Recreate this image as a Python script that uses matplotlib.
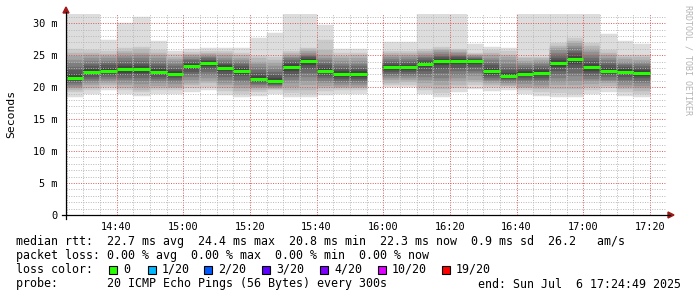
import datetime as dt
import matplotlib
matplotlib.use("Agg")
import matplotlib.pyplot as plt
import matplotlib.dates as mdates
from matplotlib.ticker import MultipleLocator, FuncFormatter
from matplotlib.patches import Polygon, Rectangle
from matplotlib.lines import Line2D

# 5-minute bins (start times), 20 sorted ping rtts per bin in ms
bin_start = ["14:25", "14:30", "14:35", "14:40", "14:45", "14:50", "14:55",
             "15:00", "15:05", "15:10", "15:15", "15:20", "15:25", "15:30",
             "15:35", "15:40", "15:45", "15:50", "15:55", "16:00", "16:05",
             "16:10", "16:15", "16:20", "16:25", "16:30", "16:35", "16:40",
             "16:45", "16:50", "16:55", "17:00", "17:05", "17:10", "17:15"]

median_ms = [21.5, 22.4, 22.6, 22.8, 22.8, 22.4, 22.1, 23.3, 23.8, 23.0,
             22.6, 21.3, 20.9, 23.2, 24.15, 22.6, 22.0, 22.0, None, 23.1,
             23.1, 23.7, 24.05, 24.15, 24.1, 22.5, 21.75, 22.1, 22.3, 23.8,
             24.4, 23.1, 22.6, 22.4, 22.3]

pings_ms = [
    [18.5, 19.3, 19.6, 19.8, 20.1, 20.4, 20.6, 20.9, 21.2, 21.45, 21.55, 22.1, 22.7, 23.2, 23.8, 24.3, 24.9, 25.4, 26.0, 32.0],
    [19.0, 19.6, 19.9, 20.3, 20.6, 21.0, 21.3, 21.6, 22.0, 22.35, 22.45, 22.9, 23.3, 23.7, 24.1, 24.5, 25.0, 25.4, 25.8, 32.0],
    [19.5, 20.1, 20.4, 20.7, 21.0, 21.3, 21.6, 21.9, 22.2, 22.55, 22.65, 23.0, 23.4, 23.8, 24.1, 24.5, 24.9, 25.2, 25.6, 27.4],
    [18.9, 19.5, 19.9, 20.3, 20.7, 21.1, 21.5, 21.9, 22.3, 22.75, 22.85, 23.3, 23.7, 24.1, 24.5, 24.9, 25.3, 25.7, 26.1, 30.0],
    [18.6, 19.2, 19.6, 20.1, 20.5, 21.0, 21.4, 21.9, 22.3, 22.75, 22.85, 23.3, 23.7, 24.1, 24.6, 25.0, 25.4, 25.9, 26.3, 31.0],
    [18.9, 19.5, 19.9, 20.2, 20.6, 20.9, 21.3, 21.6, 22.0, 22.35, 22.45, 22.9, 23.3, 23.7, 24.1, 24.5, 25.0, 25.4, 25.8, 27.2],
    [18.9, 19.5, 19.8, 20.1, 20.5, 20.8, 21.1, 21.4, 21.7, 22.05, 22.15, 22.5, 22.9, 23.3, 23.7, 24.1, 24.4, 24.8, 25.2, 25.7],
    [19.3, 19.9, 20.3, 20.7, 21.2, 21.6, 22.0, 22.4, 22.8, 23.25, 23.35, 23.6, 23.9, 24.2, 24.4, 24.7, 25.0, 25.2, 25.5, 26.0],
    [19.5, 20.1, 20.6, 21.0, 21.5, 21.9, 22.4, 22.8, 23.3, 23.75, 23.85, 24.1, 24.3, 24.5, 24.7, 24.9, 25.2, 25.4, 25.6, 26.1],
    [18.8, 19.4, 19.8, 20.3, 20.7, 21.2, 21.6, 22.1, 22.5, 22.95, 23.05, 23.4, 23.7, 24.0, 24.3, 24.6, 25.0, 25.3, 25.6, 26.1],
    [18.4, 19.0, 19.4, 19.9, 20.3, 20.8, 21.2, 21.7, 22.1, 22.55, 22.65, 23.0, 23.3, 23.6, 24.0, 24.3, 24.6, 25.0, 25.3, 26.1],
    [18.7, 19.3, 19.5, 19.8, 20.0, 20.3, 20.5, 20.8, 21.0, 21.25, 21.35, 21.8, 22.2, 22.7, 23.1, 23.6, 24.0, 24.5, 24.9, 27.75],
    [18.9, 19.5, 19.7, 19.8, 20.0, 20.2, 20.3, 20.5, 20.7, 20.85, 20.95, 21.4, 21.9, 22.4, 22.8, 23.3, 23.8, 24.2, 24.7, 28.5],
    [18.5, 19.1, 19.6, 20.1, 20.6, 21.1, 21.6, 22.1, 22.6, 23.15, 23.25, 23.6, 23.9, 24.2, 24.5, 24.8, 25.1, 25.4, 25.7, 32.0],
    [18.4, 19.0, 19.6, 20.3, 20.9, 21.6, 22.2, 22.8, 23.5, 24.1, 24.2, 24.4, 24.7, 24.9, 25.1, 25.4, 25.6, 25.9, 26.1, 32.0],
    [18.8, 19.4, 19.8, 20.2, 20.6, 21.0, 21.4, 21.8, 22.2, 22.55, 22.65, 23.0, 23.4, 23.8, 24.2, 24.6, 25.0, 25.8, 27.4, 29.8],
    [18.9, 19.5, 19.8, 20.1, 20.4, 20.7, 21.0, 21.3, 21.6, 21.95, 22.05, 22.5, 22.9, 23.3, 23.7, 24.1, 24.5, 24.9, 25.3, 26.0],
    [18.9, 19.5, 19.8, 20.1, 20.4, 20.7, 21.0, 21.3, 21.6, 21.95, 22.05, 22.5, 22.9, 23.3, 23.7, 24.1, 24.6, 25.0, 25.4, 26.0],
    None,
    [20.0, 20.4, 20.7, 21.1, 21.4, 21.7, 22.1, 22.4, 22.7, 23.05, 23.15, 23.5, 23.8, 24.1, 24.4, 24.7, 25.0, 25.3, 25.6, 27.0],
    [20.0, 20.4, 20.8, 21.1, 21.4, 21.8, 22.1, 22.4, 22.7, 23.05, 23.15, 23.5, 23.8, 24.1, 24.4, 24.7, 25.0, 25.3, 25.6, 27.0],
    [19.0, 19.6, 20.1, 20.6, 21.1, 21.6, 22.1, 22.6, 23.1, 23.65, 23.75, 24.0, 24.3, 24.6, 24.8, 25.1, 25.4, 25.6, 25.9, 32.0],
    [18.5, 19.1, 19.7, 20.3, 20.9, 21.5, 22.2, 22.8, 23.4, 24.0, 24.1, 24.4, 24.65, 24.9, 25.2, 25.5, 25.75, 26.0, 26.3, 32.0],
    [19.25, 19.8, 20.3, 20.9, 21.4, 21.95, 22.5, 23.0, 23.6, 24.1, 24.2, 24.4, 24.65, 24.9, 25.1, 25.3, 25.55, 25.8, 26.0, 32.0],
    [19.7, 20.3, 20.8, 21.2, 21.7, 22.2, 22.6, 23.1, 23.6, 24.05, 24.15, 24.3, 24.45, 24.6, 24.7, 24.85, 25.0, 25.15, 25.3, 26.8],
    [19.4, 20.0, 20.3, 20.6, 20.9, 21.2, 21.5, 21.8, 22.1, 22.45, 22.55, 23.0, 23.4, 23.8, 24.2, 24.6, 25.0, 25.4, 25.8, 26.3],
    [19.5, 20.0, 20.2, 20.4, 20.6, 20.85, 21.1, 21.3, 21.5, 21.7, 21.8, 22.3, 22.75, 23.2, 23.7, 24.2, 24.65, 25.1, 25.6, 26.2],
    [18.9, 19.5, 19.8, 20.1, 20.5, 20.8, 21.1, 21.4, 21.7, 22.05, 22.15, 22.5, 22.8, 23.1, 23.5, 23.8, 24.1, 24.5, 24.8, 32.0],
    [18.7, 19.3, 19.7, 20.0, 20.4, 20.8, 21.1, 21.5, 21.9, 22.25, 22.35, 22.65, 23.0, 23.3, 23.6, 23.9, 24.2, 24.5, 24.8, 32.0],
    [18.5, 19.1, 19.7, 20.3, 20.8, 21.4, 22.0, 22.6, 23.2, 23.75, 23.85, 24.2, 24.6, 25.0, 25.4, 25.75, 26.1, 26.5, 26.9, 32.0],
    [18.4, 19.0, 19.7, 20.3, 21.0, 21.7, 22.3, 23.0, 23.7, 24.35, 24.45, 24.9, 25.3, 25.7, 26.1, 26.5, 26.9, 27.3, 27.75, 32.0],
    [19.0, 19.6, 20.0, 20.5, 20.9, 21.3, 21.8, 22.2, 22.6, 23.05, 23.15, 23.6, 24.1, 24.6, 25.0, 25.5, 26.0, 26.4, 26.9, 32.0],
    [19.3, 19.9, 20.2, 20.6, 20.9, 21.2, 21.6, 21.9, 22.2, 22.55, 22.65, 23.0, 23.4, 23.8, 24.2, 24.6, 25.0, 25.4, 25.8, 28.3],
    [18.7, 19.3, 19.7, 20.1, 20.4, 20.8, 21.2, 21.6, 22.0, 22.35, 22.45, 22.8, 23.1, 23.4, 23.7, 24.0, 24.4, 24.7, 25.0, 27.2],
    [18.4, 19.0, 19.4, 19.8, 20.2, 20.6, 21.0, 21.4, 21.8, 22.25, 22.35, 22.7, 23.0, 23.3, 23.7, 24.0, 24.3, 24.7, 25.0, 26.8],
]

loss_labels = ["0", "1/20", "2/20", "3/20", "4/20", "10/20", "19/20"]
loss_colors = ["#26ff00", "#00b8ff", "#0059ff", "#5e00ff", "#7e00ff", "#dd00ff", "#ff0000"]

legend_rtt = "median rtt:  22.7 ms avg  24.4 ms max  20.8 ms min  22.3 ms now  0.9 ms sd  26.2   am/s"
legend_loss = "packet loss: 0.00 % avg  0.00 % max  0.00 % min  0.00 % now"
legend_probe = "probe:       20 ICMP Echo Pings (56 Bytes) every 300s"
end_text = "end: Sun Jul  6 17:24:49 2025"

day = dt.date(2025, 7, 6)
t_start = dt.datetime(2025, 7, 6, 14, 24, 49)
t_end = dt.datetime(2025, 7, 6, 17, 24, 49)
step = dt.timedelta(minutes=5)

W, H = 697, 297
MONO = "DejaVu Sans Mono"


def fx(px):
    return px / W


def fy(py):
    return 1 - py / H


fig = plt.figure(figsize=(W / 100, H / 100), dpi=100)
fig.patch.set_facecolor("white")

top_px, bot_px, left_px, right_px = 14.35, 215, 66, 666
ax = fig.add_axes([fx(left_px), fy(bot_px), (right_px - left_px) / W, (bot_px - top_px) / H])
ax.set_facecolor("white")

width = mdates.date2num(t_start + step) - mdates.date2num(t_start)

# smoke: nested areas, outer ones light, inner ones dark
for start, pings, med in zip(bin_start, pings_ms, median_ms):
    if pings is None:
        continue
    h, m = map(int, start.split(":"))
    x0 = mdates.date2num(dt.datetime.combine(day, dt.time(h, m)))
    n = len(pings)
    half = n / 2
    for ibot in range(1, n // 2 + 1):
        itop = n + 1 - ibot
        g = int(190 / half * (half - ibot)) + 50
        col = "#%02x%02x%02x" % (g, g, g)
        lo, hi = pings[ibot - 1], pings[itop - 1]
        ax.bar(x0, hi - lo, width, bottom=lo, align="edge", color=col,
               edgecolor=col, linewidth=0.3, zorder=1)
    ax.hlines(med, x0, x0 + width, color=loss_colors[0], linewidth=2.2, zorder=4)

ax.set_xlim(mdates.date2num(t_start), mdates.date2num(t_end))
ax.set_ylim(0, (bot_px - top_px) / 6.39)

ax.xaxis.set_major_locator(mdates.MinuteLocator(byminute=[0, 20, 40]))
ax.xaxis.set_minor_locator(mdates.MinuteLocator(byminute=range(0, 60, 5)))
ax.xaxis.set_major_formatter(mdates.DateFormatter("%H:%M"))
ax.yaxis.set_major_locator(MultipleLocator(5))
ax.yaxis.set_minor_locator(MultipleLocator(1))
ax.yaxis.set_major_formatter(FuncFormatter(lambda v, p: "0" if v == 0 else "%d m" % v))

ax.set_axisbelow(False)
ax.grid(which="minor", color=(0.72, 0.72, 0.72, 0.6), linestyle=(0, (1, 1.5)), linewidth=0.7)
ax.grid(which="major", color=(0.85, 0.35, 0.35, 0.5), linestyle=(0, (1, 1.5)), linewidth=0.7)

for s in ax.spines.values():
    s.set_visible(False)
ax.tick_params(which="both", length=0, labelsize=7.4)
ax.tick_params(axis="y", pad=6)
ax.tick_params(axis="x", pad=5)
for lab in ax.get_xticklabels() + ax.get_yticklabels():
    lab.set_family(MONO)

# axis lines with arrows
fig.add_artist(Line2D([fx(62), fx(670)], [fy(215), fy(215)], color="black", lw=0.9))
fig.add_artist(Line2D([fx(66), fx(66)], [fy(219), fy(12)], color="black", lw=0.9))
arrow_col = "#a01818"
fig.add_artist(Polygon([[fx(668), fy(212)], [fx(668), fy(218)], [fx(674), fy(215)]],
                       closed=True, color=arrow_col, transform=fig.transFigure))
fig.add_artist(Polygon([[fx(63), fy(13)], [fx(69), fy(13)], [fx(66), fy(7)]],
                       closed=True, color=arrow_col, transform=fig.transFigure))

fig.text(fx(11), fy(114), "Seconds", rotation=90, ha="center", va="center",
         family=MONO, fontsize=8.2)
fig.text(fx(688), fy(5), "RRDTOOL / TOBI OETIKER", rotation=270, ha="center", va="top",
         family=MONO, fontsize=6.0, color="#b4b4b4")

# legend
lx = fx(16)
fs = 8.4
fig.text(lx, fy(241), legend_rtt, family=MONO, fontsize=fs, va="center")
fig.text(lx, fy(255.5), legend_loss, family=MONO, fontsize=fs, va="center")
fig.text(lx, fy(269.5), "loss color:", family=MONO, fontsize=fs, va="center")
box_x = [109, 148, 204, 262, 320, 378, 442]
for bx, lab, col in zip(box_x, loss_labels, loss_colors):
    fig.add_artist(Rectangle((fx(bx), fy(273.5)), 8 / W, 8 / H, facecolor=col,
                             edgecolor="black", linewidth=0.8, transform=fig.transFigure))
    fig.text(fx(bx + 14), fy(269.5), lab, family=MONO, fontsize=fs, va="center")
fig.text(lx, fy(284), legend_probe, family=MONO, fontsize=fs, va="center")
fig.text(fx(681), fy(284), end_text, family=MONO, fontsize=fs, va="center", ha="right")

fig.savefig("out.png", dpi=100)
